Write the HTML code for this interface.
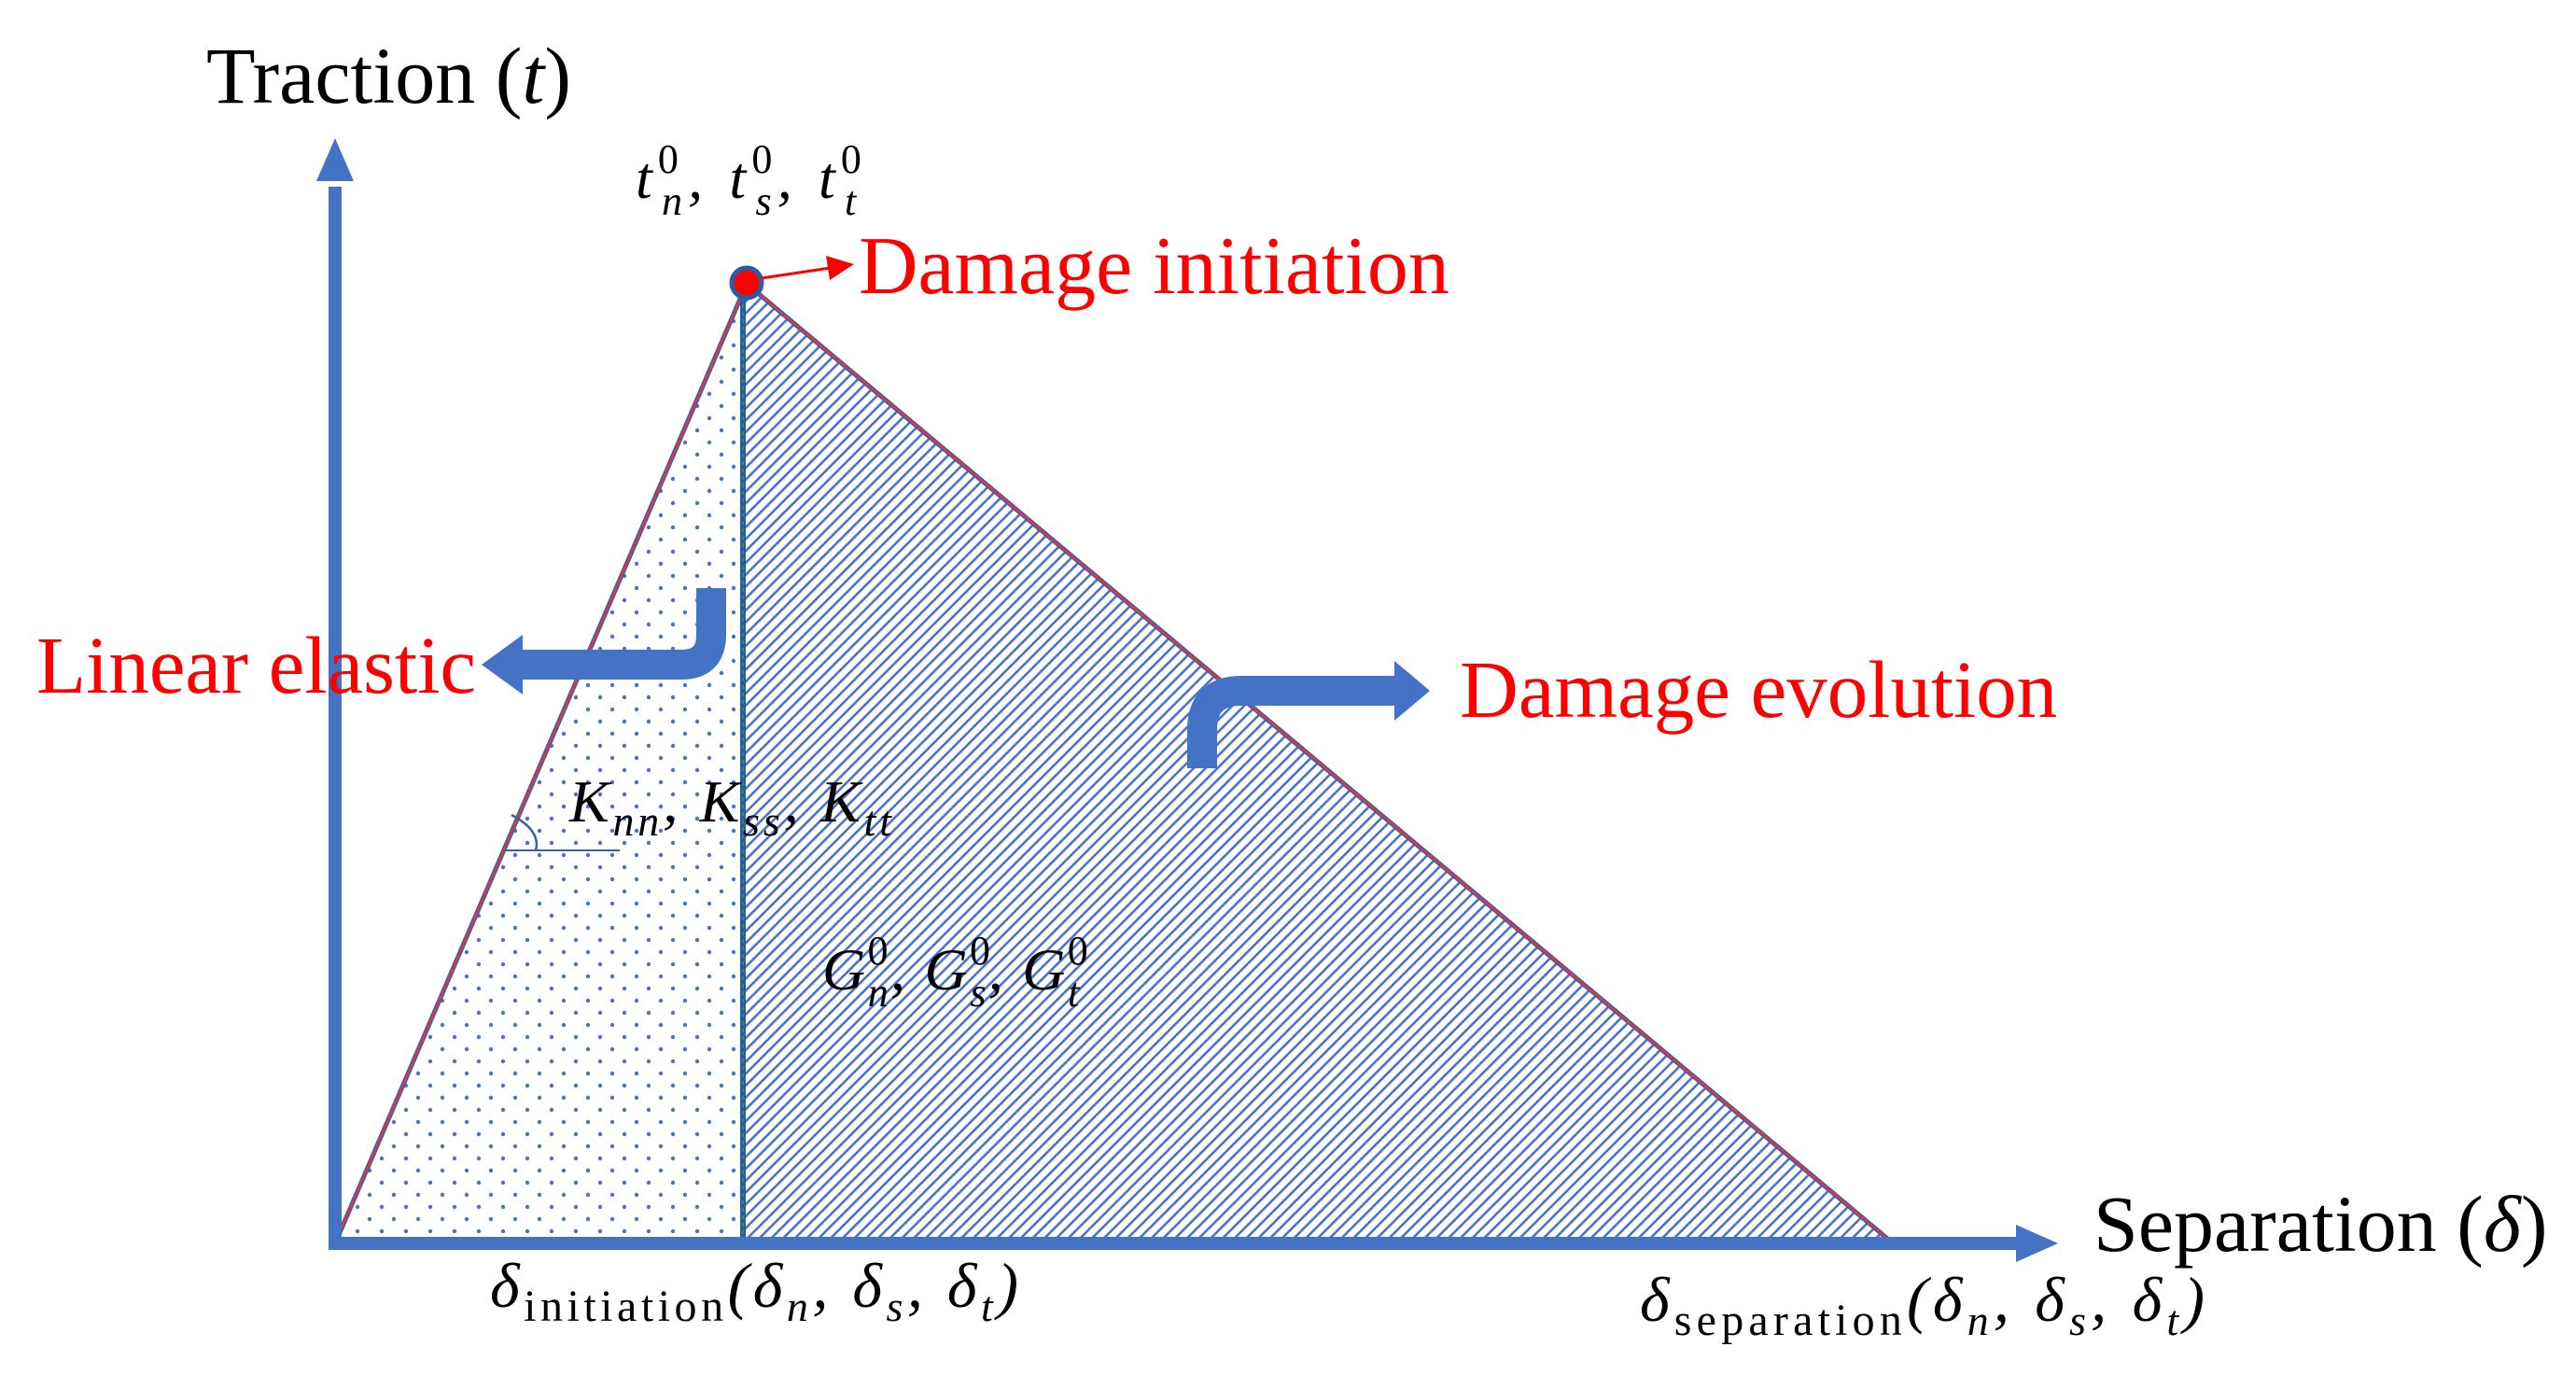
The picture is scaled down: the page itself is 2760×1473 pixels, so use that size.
<!DOCTYPE html>
<html><head><meta charset="utf-8"><style>
html,body{margin:0;padding:0;background:#fff;}
svg{display:block;}
text{font-family:"Liberation Serif",serif;}
</style></head><body>
<svg width="2760" height="1473" viewBox="0 0 2760 1473" xmlns="http://www.w3.org/2000/svg">
<defs>
<pattern id="dots" width="26" height="26" patternUnits="userSpaceOnUse">
<circle cx="6" cy="6" r="2.2" fill="#4a72c8"/>
<circle cx="19" cy="19" r="2.2" fill="#4a72c8"/>
</pattern>
<pattern id="hatch" width="9" height="9" patternUnits="userSpaceOnUse" patternTransform="rotate(45)">
<rect x="0" y="0" width="9" height="9" fill="#fff"/>
<rect x="0" y="0" width="2.6" height="9" fill="#4a72c8"/>
</pattern>
</defs>
<polygon points="360,1330 797,304 797,1330" fill="url(#dots)"/>
<polygon points="797,304 2026,1330 797,1330" fill="url(#hatch)"/>
<line x1="360" y1="1330" x2="800" y2="304" stroke="#3a5fa8" stroke-width="5"/>
<line x1="360" y1="1330" x2="800" y2="304" stroke="#e33" stroke-width="2"/>
<line x1="800" y1="304" x2="2026" y2="1330" stroke="#3a5fa8" stroke-width="5"/>
<line x1="800" y1="304" x2="2026" y2="1330" stroke="#e33" stroke-width="2"/>
<line x1="796" y1="304" x2="796" y2="1330" stroke="#2a5aa8" stroke-width="6"/>
<line x1="796" y1="310" x2="796" y2="1330" stroke="#1a9a5a" stroke-width="2" stroke-dasharray="4 4"/>
<line x1="359" y1="1332" x2="359" y2="200" stroke="#4472c4" stroke-width="14"/>
<polygon points="359,148 339,194 379,194" fill="#4472c4"/>
<line x1="352" y1="1332" x2="2165" y2="1332" stroke="#4472c4" stroke-width="14"/>
<polygon points="2205,1332 2160,1312 2160,1352" fill="#4472c4"/>
<circle cx="800" cy="303" r="16" fill="#f00" stroke="#2a5aa8" stroke-width="5"/>
<line x1="816" y1="298" x2="890" y2="287" stroke="#f00" stroke-width="3"/>
<polygon points="915,283 885,274 889,300" fill="#f00"/>
<line x1="540" y1="911" x2="664" y2="911" stroke="#3a5fa8" stroke-width="2"/>
<path d="M548,873 Q580,890 574,911" fill="none" stroke="#3a5fa8" stroke-width="2.5"/>
<path d="M762,630 L762,680 Q762,712 730,712 L555,712" fill="none" stroke="#4472c4" stroke-width="32"/>
<polygon points="516,712 560,680 560,744" fill="#4472c4"/>
<path d="M1288,823 L1288,782 Q1288,740 1330,740 L1495,740" fill="none" stroke="#4472c4" stroke-width="32"/>
<polygon points="1532,740 1494,708 1494,772" fill="#4472c4"/>
<text x="221" y="110" font-size="86" fill="#000">Traction (<tspan font-style="italic">t</tspan>)</text>
<text x="681" y="212" font-size="64" font-style="italic" fill="#000" textLength="248" lengthAdjust="spacing">t<tspan font-size="44" dy="-27" font-style="normal">0</tspan><tspan font-size="44" dx="-24" dy="45">n</tspan><tspan dy="-18">, t</tspan><tspan font-size="44" dy="-27" font-style="normal">0</tspan><tspan font-size="44" dx="-24" dy="45">s</tspan><tspan dy="-18">, t</tspan><tspan font-size="44" dy="-27" font-style="normal">0</tspan><tspan font-size="44" dx="-24" dy="45">t</tspan></text>
<text x="920" y="314" font-size="88" fill="#f00">Damage initiation</text>
<text x="39" y="742" font-size="87" fill="#f00">Linear elastic</text>
<text x="1564" y="768" font-size="87" fill="#f00">Damage evolution</text>
<text x="610" y="880" font-size="64" font-style="italic" fill="#000" textLength="345" lengthAdjust="spacing">K<tspan font-size="46" dy="15">nn</tspan><tspan dy="-15">, K</tspan><tspan font-size="46" dy="15">ss</tspan><tspan dy="-15">, K</tspan><tspan font-size="46" dy="15">tt</tspan></text>
<text x="881" y="1060" font-size="64" font-style="italic" fill="#000" textLength="287" lengthAdjust="spacing">G<tspan font-size="44" dy="-27" font-style="normal">0</tspan><tspan font-size="44" dx="-24" dy="45">n</tspan><tspan dy="-18">, G</tspan><tspan font-size="44" dy="-27" font-style="normal">0</tspan><tspan font-size="44" dx="-24" dy="45">s</tspan><tspan dy="-18">, G</tspan><tspan font-size="44" dy="-27" font-style="normal">0</tspan><tspan font-size="44" dx="-24" dy="45">t</tspan></text>
<text x="525" y="1400" font-size="68" font-style="italic" fill="#000" textLength="566" lengthAdjust="spacing">δ<tspan font-size="48" font-style="normal" dy="15">initiation</tspan><tspan dy="-15">(δ</tspan><tspan font-size="46" dy="15">n</tspan><tspan dy="-15">, δ</tspan><tspan font-size="46" dy="15">s</tspan><tspan dy="-15">, δ</tspan><tspan font-size="46" dy="15">t</tspan><tspan dy="-15">)</tspan></text>
<text x="1757" y="1415" font-size="68" font-style="italic" fill="#000" textLength="605" lengthAdjust="spacing">δ<tspan font-size="48" font-style="normal" dy="15">separation</tspan><tspan dy="-15">(δ</tspan><tspan font-size="46" dy="15">n</tspan><tspan dy="-15">, δ</tspan><tspan font-size="46" dy="15">s</tspan><tspan dy="-15">, δ</tspan><tspan font-size="46" dy="15">t</tspan><tspan dy="-15">)</tspan></text>
<text x="2243" y="1340" font-size="86" fill="#000">Separation (<tspan font-style="italic">δ</tspan>)</text>
</svg>
</body></html>
